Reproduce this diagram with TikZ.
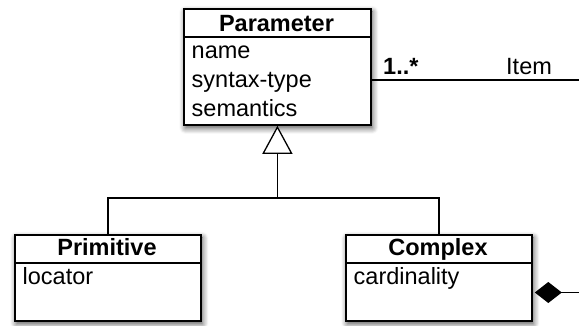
\documentclass[tikz,border=0pt]{standalone}
\usepackage{fontspec}
\setmainfont{Liberation Sans}
\usetikzlibrary{arrows.meta,shadows.blur}
\begin{document}
\begin{tikzpicture}[x=1pt,y=-1pt,
  umlbox/.style={draw, line width=1.8pt, fill=white, inner sep=0pt, anchor=north west,
    blur shadow={shadow xshift=1.5pt, shadow yshift=-3pt, shadow blur radius=6pt, shadow blur steps=8, shadow opacity=70}},
  divider/.style={line width=1.6pt},
  conn/.style={line width=1.3pt},
  title/.style={anchor=base, inner sep=0pt, font=\fontsize{23.5}{29}\selectfont\bfseries},
  attr/.style={anchor=base west, inner sep=0pt, font=\fontsize{23.5}{29}\selectfont},
  lbl/.style={anchor=base west, inner sep=0pt, font=\fontsize{23.5}{29}\selectfont},
]
\useasboundingbox (0,0) rectangle (579,325);
% boxes
\node[umlbox, minimum width=187pt, minimum height=116pt] (param) at (183,8) {};
\node[umlbox, minimum width=186pt, minimum height=86pt] (prim) at (14,234) {};
\node[umlbox, minimum width=186pt, minimum height=86pt] (cplx) at (345,234) {};
% dividers
\draw[divider] (param.west |- 0,37) -- (param.east |- 0,37);
\draw[divider] (prim.west |- 0,263) -- (prim.east |- 0,263);
\draw[divider] (cplx.west |- 0,263) -- (cplx.east |- 0,263);
% texts
\node[title] (paramtitle) at (276.5,31) {Parameter};
\node[attr] (a1) at (191.5,58) {name};
\node[attr] (a2) at (191.5,87) {syntax-type};
\node[attr] (a3) at (191.5,116) {semantics};
\node[title] (primtitle) at (107,255) {Primitive};
\node[attr] (a4) at (22.5,284) {locator};
\node[title] (cplxtitle) at (438,255) {Complex};
\node[attr] (a5) at (353.5,284) {cardinality};
% generalization
\coordinate (join) at (param.south |- 0,198);
\draw[conn] (prim.north) |- (join) -| (cplx.north);
\draw[conn, -{Triangle[open, width=30pt, length=28pt, fill=white]}] (join) -- (param.south);
% association to Item
\coordinate (itemend) at (579,80);
\draw[conn] (param.east |- itemend) -- (itemend);
\node[lbl, font=\fontsize{23.5}{29}\selectfont\bfseries] (mult) at (383,74) {1..*};
\node[lbl] (role) at (506,74) {Item};
% composition
\coordinate (compend) at (579,292.5);
\draw[conn, {Diamond[width=21pt, length=27pt]}-] ([xshift=2pt]cplx.east |- compend) -- (compend);
\end{tikzpicture}
\end{document}
